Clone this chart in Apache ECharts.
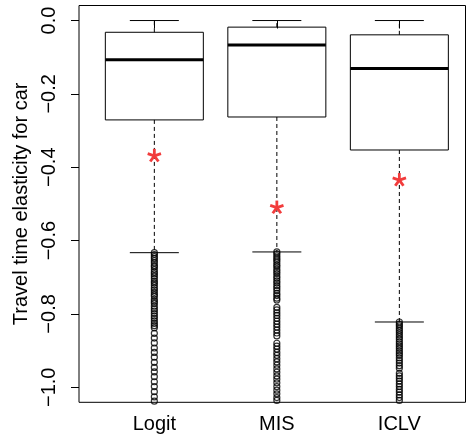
<!DOCTYPE html>
<html>
<head>
<meta charset="utf-8">
<script src="https://cdn.jsdelivr.net/npm/echarts@6/dist/echarts.min.js"></script>
<style>
html, body { margin: 0; padding: 0; background: #fff; }
#main { width: 466px; height: 436px; }
</style>
</head>
<body>
<div id="main"></div>
<script>
// box summaries
var categories = ['Logit', 'MIS', 'ICLV'];
var upperWhisker = [0.0, 0.0, 0.0];
var q3 = [-0.032, -0.018, -0.039];
var median = [-0.107, -0.067, -0.131];
var q1 = [-0.271, -0.263, -0.353];
var lowerWhisker = [-0.633, -0.631, -0.822];
var means = [-0.369, -0.510, -0.435];

// outliers (open circles), below the lower whisker
var outLogit = [-0.633, -0.638, -0.644, -0.649, -0.655, -0.661, -0.668, -0.672, -0.679, -0.686,
    -0.691, -0.697, -0.704, -0.711, -0.716, -0.722, -0.729, -0.735, -0.741, -0.747, -0.752,
    -0.760, -0.766, -0.771, -0.779, -0.786, -0.792, -0.799, -0.806, -0.812, -0.819, -0.826,
    -0.832, -0.838, -0.853, -0.866, -0.879, -0.893, -0.905, -0.918, -0.932, -0.946, -0.958,
    -0.971, -0.985, -0.998, -1.012, -1.026, -1.038];
var outMIS = [-0.631, -0.636, -0.642, -0.648, -0.653, -0.659, -0.666, -0.671, -0.678, -0.684,
    -0.690, -0.697, -0.703, -0.710, -0.716, -0.723, -0.729, -0.736, -0.744, -0.750, -0.757,
    -0.762, -0.782, -0.789, -0.797, -0.804, -0.812, -0.820, -0.828, -0.836, -0.844, -0.852,
    -0.860, -0.880, -0.888, -0.896, -0.905, -0.913, -0.922, -0.931, -0.940, -0.950, -0.959,
    -0.969, -0.978, -0.988, -0.998, -1.008, -1.018, -1.028, -1.036];
var outICLV = [-0.822, -0.828, -0.833, -0.839, -0.845, -0.851, -0.857, -0.863, -0.869, -0.876,
    -0.882, -0.888, -0.894, -0.901, -0.907, -0.913, -0.920, -0.927, -0.934, -0.941, -0.948,
    -0.962, -0.969, -0.976, -0.983, -0.991, -0.998, -1.006, -1.013, -1.021, -1.028, -1.036];

var yTicks = [0, -0.2, -0.4, -0.6, -0.8, -1.0];
var xTicks = [1, 2, 3];

var FONT = 'Liberation Sans, Arial, Helvetica, sans-serif';
var myChart = echarts.init(document.getElementById('main'));

var boxData = [];
var meanData = [];
var outData = [];
var outliers = [outLogit, outMIS, outICLV];
for (var i = 0; i < categories.length; i++) {
    boxData.push([i + 1, lowerWhisker[i], q1[i], median[i], q3[i], upperWhisker[i]]);
    meanData.push([i + 1, means[i]]);
    outliers[i].forEach(function (v) {
        outData.push([i + 1, v]);
    });
}

function renderBox(params, api) {
    var x = api.value(0);
    var pLow = api.coord([x, api.value(1)]);
    var pQ1 = api.coord([x, api.value(2)]);
    var pMed = api.coord([x, api.value(3)]);
    var pQ3 = api.coord([x, api.value(4)]);
    var pUp = api.coord([x, api.value(5)]);
    var half = api.size([0.8, 0])[0] / 2;
    var cx = pMed[0];
    var thin = { stroke: '#000', lineWidth: 1 };
    var dashed = { stroke: '#000', lineWidth: 1, lineDash: [4, 3] };
    return {
        type: 'group',
        children: [
            { type: 'line', shape: { x1: cx, y1: pQ3[1], x2: cx, y2: pUp[1] }, style: dashed },
            { type: 'line', shape: { x1: cx, y1: pQ1[1], x2: cx, y2: pLow[1] }, style: dashed },
            { type: 'line', shape: { x1: cx - half / 2, y1: pUp[1], x2: cx + half / 2, y2: pUp[1] }, style: thin },
            { type: 'line', shape: { x1: cx - half / 2, y1: pLow[1], x2: cx + half / 2, y2: pLow[1] }, style: thin },
            { type: 'rect', shape: { x: cx - half, y: pQ3[1], width: half * 2, height: pQ1[1] - pQ3[1] },
              style: { fill: 'none', stroke: '#000', lineWidth: 1 } },
            { type: 'line', shape: { x1: cx - half, y1: pMed[1], x2: cx + half, y2: pMed[1] },
              style: { stroke: '#000', lineWidth: 3 } }
        ]
    };
}

function renderMean(params, api) {
    var p = api.coord([api.value(0), api.value(1)]);
    var r = 7;
    var arms = [];
    for (var k = 0; k < 5; k++) {
        var a = k * Math.PI * 2 / 5;
        arms.push({
            type: 'line',
            shape: { x1: p[0], y1: p[1], x2: p[0] + r * Math.sin(a), y2: p[1] - r * Math.cos(a) },
            style: { stroke: '#f23c3c', lineWidth: 2.8 }
        });
    }
    return { type: 'group', children: arms };
}

option = {
    animation: false,
    backgroundColor: '#fff',
    grid: {
        left: 79,
        right: 0.5,
        top: 5.5,
        bottom: 33.7,
        show: true,
        borderColor: '#000',
        borderWidth: 1,
        outerBoundsMode: 'none',
        containLabel: false
    },
    xAxis: {
        type: 'value',
        min: 0.385,
        max: 3.54,
        axisLine: { show: false },
        splitLine: { show: false },
        axisTick: { show: true, customValues: xTicks, length: 8, lineStyle: { color: '#000' } },
        axisLabel: {
            customValues: xTicks,
            margin: 12,
            color: '#000',
            fontSize: 20,
            fontFamily: FONT,
            formatter: function (v) { return categories[Math.round(v) - 1]; }
        }
    },
    yAxis: {
        type: 'value',
        min: -1.041,
        max: 0.041,
        name: 'Travel time elasticity for car',
        nameLocation: 'middle',
        nameRotate: 90,
        nameGap: 45,
        nameTextStyle: { color: '#000', fontSize: 20, fontFamily: FONT },
        axisLine: { show: false },
        splitLine: { show: false },
        axisTick: { show: true, customValues: yTicks, length: 8, lineStyle: { color: '#000' } },
        axisLabel: {
            customValues: yTicks,
            rotate: 90,
            margin: 20,
            color: '#000',
            fontSize: 20,
            fontFamily: FONT,
            formatter: function (v) {
                return (v < 0 ? '\u2212' : '') + Math.abs(v).toFixed(1);
            }
        }
    },
    series: [
        {
            type: 'custom',
            renderItem: renderBox,
            data: boxData,
            encode: { x: 0, y: [1, 2, 3, 4, 5] },
            z: 2
        },
        {
            type: 'scatter',
            data: outData,
            symbol: 'circle',
            symbolSize: 6,
            clip: true,
            itemStyle: { color: 'rgba(0,0,0,0)', borderColor: '#000', borderWidth: 1.2 },
            z: 3
        },
        {
            type: 'custom',
            renderItem: renderMean,
            data: meanData,
            encode: { x: 0, y: 1 },
            z: 4
        }
    ]
};

myChart.setOption(option);
</script>
</body>
</html>
